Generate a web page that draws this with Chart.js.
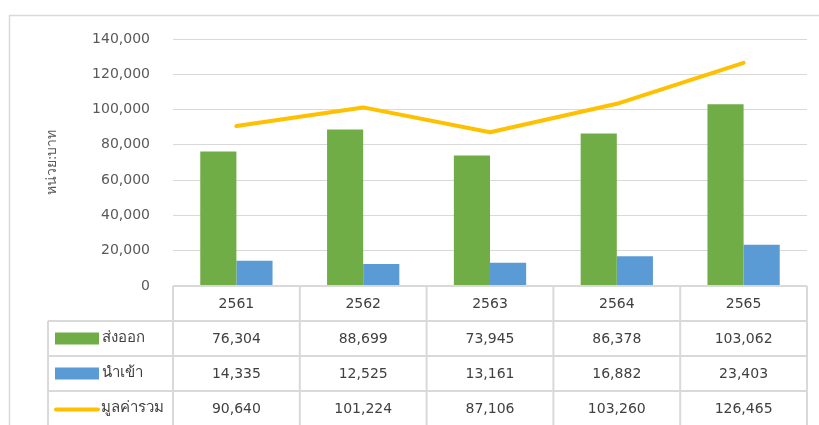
<!DOCTYPE html>
<html>
<head>
<meta charset="utf-8">
<script src="https://cdn.jsdelivr.net/npm/chart.js@4/dist/chart.umd.min.js"></script>
<style>
  html, body { margin: 0; padding: 0; background: #ffffff; }
  #wrap { width: 819px; height: 425px; position: relative; }
</style>
</head>
<body>
<div id="wrap"><canvas id="c" width="819" height="425"></canvas></div>
<script>
const categories = ['2561', '2562', '2563', '2564', '2565'];
const exportValues = [76304, 88699, 73945, 86378, 103062];
const importValues = [14335, 12525, 13161, 16882, 23403];
const totalValues = [90640, 101224, 87106, 103260, 126465];
const seriesNames = ['ส่งออก', 'นำเข้า', 'มูลค่ารวม'];
const yAxisTitle = 'หน่วย:บาท';

const FONT = "'DejaVu Sans', Tahoma, 'Noto Sans', sans-serif";
const GREEN = '#70AD47', BLUE = '#5B9BD5', GOLD = '#FFC000';
const GRID = '#d9d9d9', TXT = '#404040';

function fmt(v) { return v.toLocaleString('en-US'); }

const tablePlugin = {
  id: 'dataTable',
  beforeDraw(chart) {
    const ctx = chart.ctx;
    ctx.save();
    ctx.strokeStyle = GRID;
    ctx.lineWidth = 1.5;
    ctx.beginPath();
    ctx.moveTo(9, 15.5); ctx.lineTo(819, 15.5);
    ctx.moveTo(9.5, 15); ctx.lineTo(9.5, 425);
    ctx.stroke();
    ctx.restore();
  },
  afterDraw(chart) {
    const ctx = chart.ctx;
    const area = chart.chartArea;
    const xs = chart.scales.x;
    const n = categories.length;
    const centers = categories.map((_, i) => xs.getPixelForValue(i));
    const bounds = [area.left];
    for (let i = 1; i < n; i++) bounds.push((centers[i - 1] + centers[i]) / 2);
    bounds.push(area.right);
    const rowH = 35;
    const top = area.bottom;
    const tableLeft = 48;
    const bottom = top + rowH * 4;

    ctx.save();
    ctx.strokeStyle = GRID;
    ctx.lineWidth = 2;
    ctx.beginPath();
    ctx.moveTo(area.left, top); ctx.lineTo(area.right, top);
    for (let r = 1; r <= 3; r++) {
      ctx.moveTo(tableLeft, top + rowH * r); ctx.lineTo(area.right, top + rowH * r);
    }
    bounds.forEach(b => { ctx.moveTo(b, top); ctx.lineTo(b, bottom); });
    ctx.moveTo(tableLeft, top + rowH); ctx.lineTo(tableLeft, bottom);
    ctx.stroke();

    ctx.fillStyle = TXT;
    ctx.font = '14px ' + FONT;
    ctx.textAlign = 'center';
    ctx.textBaseline = 'middle';
    categories.forEach((c, i) => ctx.fillText(c, centers[i], top + rowH / 2 + 1));
    const rows = [exportValues, importValues, totalValues];
    rows.forEach((vals, r) => {
      vals.forEach((v, i) => ctx.fillText(fmt(v), centers[i], top + rowH * (r + 1) + rowH / 2 + 1));
    });

    // legend keys
    const keyX = 55, keyW = 44;
    const y1 = top + rowH * 1 + rowH / 2;
    const y2 = top + rowH * 2 + rowH / 2;
    const y3 = top + rowH * 3 + rowH / 2;
    ctx.fillStyle = GREEN;
    ctx.fillRect(keyX, y1 - 6, keyW, 12);
    ctx.fillStyle = BLUE;
    ctx.fillRect(keyX, y2 - 6, keyW, 12);
    ctx.strokeStyle = GOLD;
    ctx.lineWidth = 4;
    ctx.lineCap = 'round';
    ctx.beginPath();
    ctx.moveTo(keyX + 1, y3 + 1); ctx.lineTo(keyX + keyW - 1, y3 + 1);
    ctx.stroke();

    ctx.fillStyle = TXT;
    ctx.font = '15px ' + FONT;
    ctx.textAlign = 'left';
    ctx.fillText(seriesNames[0], keyX + keyW + 3, y1);
    ctx.fillText(seriesNames[1], keyX + keyW + 3, y2);
    ctx.fillText(seriesNames[2], keyX + keyW + 2, y3);
    ctx.restore();
  }
};

new Chart(document.getElementById('c'), {
  data: {
    labels: categories,
    datasets: [
      { type: 'line', label: seriesNames[2], data: totalValues, borderColor: GOLD, borderWidth: 4,
        pointRadius: 0, tension: 0, order: 0, borderCapStyle: 'round', borderJoinStyle: 'round' },
      { type: 'bar', label: seriesNames[0], data: exportValues, backgroundColor: GREEN, order: 1,
        categoryPercentage: 0.57, barPercentage: 1.0 },
      { type: 'bar', label: seriesNames[1], data: importValues, backgroundColor: BLUE, order: 1,
        categoryPercentage: 0.57, barPercentage: 1.0 }
    ]
  },
  options: {
    responsive: false,
    animation: false,
    devicePixelRatio: 1,
    layout: { padding: { left: 0, top: 39, right: 12, bottom: 139 } },
    plugins: { legend: { display: false }, tooltip: { enabled: false } },
    scales: {
      x: {
        type: 'category',
        offset: true,
        ticks: { display: false },
        grid: { display: false },
        border: { display: false },
        afterFit(scale) { scale.height = 0; }
      },
      y: {
        min: 0, max: 140000,
        ticks: { stepSize: 20000, padding: 23, color: '#595959', font: { family: FONT, size: 14 },
          callback: v => fmt(v) },
        grid: { color: GRID, lineWidth: 1, drawTicks: false },
        border: { display: false },
        title: { display: true, text: yAxisTitle, color: '#595959', font: { family: FONT, size: 14 },
          padding: { top: 44, bottom: 0 } },
        afterFit(scale) { scale.width = 173; }
      }
    }
  },
  plugins: [tablePlugin]
});
</script>
</body>
</html>
